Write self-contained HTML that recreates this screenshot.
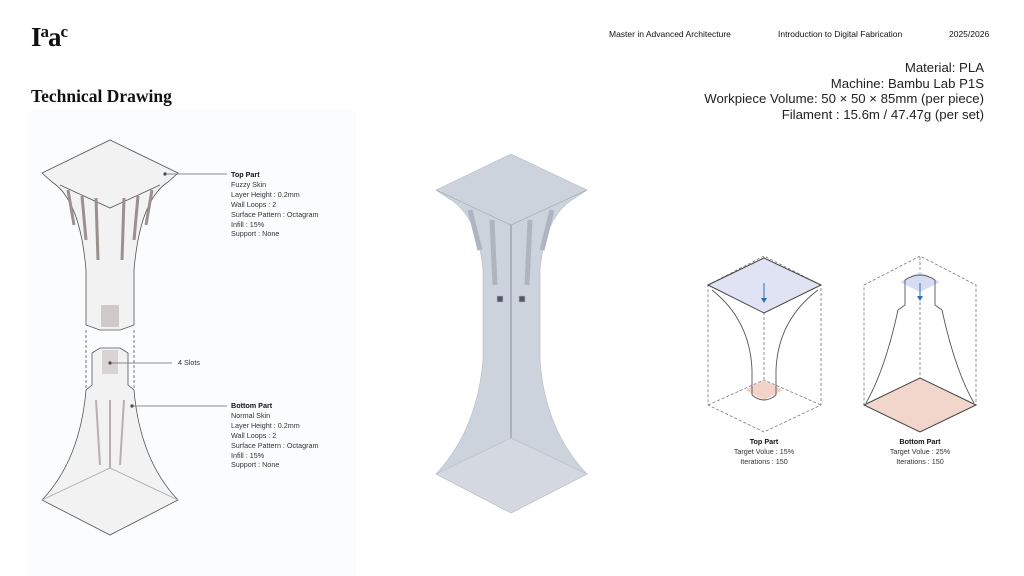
<!DOCTYPE html>
<html><head><meta charset="utf-8"><style>
body{margin:0;width:1024px;height:576px;background:#fff;position:relative;overflow:hidden;font-family:"Liberation Sans",sans-serif;color:#111}
.a{position:absolute;white-space:nowrap}
.lab{font-size:7.2px;line-height:9.9px;color:#333}
.lab b{color:#111}
</style></head><body>
<div class="a" style="left:30px;top:110px;width:326px;height:466px;background:#fbfcfd"></div>
<div class="a" style="left:31px;top:22px;font-family:'Liberation Serif',serif;font-weight:bold;font-size:27px;letter-spacing:-1px">I<span style="font-size:17px;vertical-align:9px">a</span>a<span style="font-size:17px;vertical-align:9px">c</span></div>
<div class="a" style="left:31px;top:86px;font-family:'Liberation Serif',serif;font-weight:bold;font-size:17.5px">Technical Drawing</div>
<div class="a" style="left:609px;top:29px;font-size:8.5px">Master in Advanced Architecture</div>
<div class="a" style="left:778px;top:29px;font-size:8.5px">Introduction to Digital Fabrication</div>
<div class="a" style="left:949px;top:29px;font-size:8.5px">2025/2026</div>
<div class="a" style="right:40px;top:60px;text-align:right;font-size:13.2px;line-height:15.5px;color:#222">Material: PLA<br>Machine: Bambu Lab P1S<br>Workpiece Volume: 50 × 50 × 85mm (per piece)<br>Filament : 15.6m / 47.47g (per set)</div>

<svg class="a" style="left:0;top:0" width="1024" height="576">
<!-- left top part -->
<g stroke="#555" stroke-width="0.8" fill="#f2f2f2">
<path d="M110 140 L178 173 L168 182 Q140 200 134 270 L134 325 L120 330 L100 330 L86 325 L86 270 Q80 200 52 182 L42 173 Z"/>
<path d="M60 185 L110 208 L160 185" fill="none"/>
<path d="M68 190 L74 225 M82 196 L86 240 M96 198 L98 260 M124 198 L122 260 M138 196 L134 240 M152 190 L146 225" stroke="#9a9090" stroke-width="3"/>
<rect x="101" y="305" width="18" height="22" fill="#cfc9c9" stroke="none"/>
<path d="M86 330 L86 395 M134 330 L134 395" stroke-dasharray="3 2" fill="none"/>
<path d="M92 353 L100 348 L120 348 L128 353 L128 385 L134 390 Q140 460 178 500 L110 535 L42 500 Q80 460 86 390 L92 385 Z"/>
<rect x="102" y="350" width="16" height="24" fill="#d8d4d4" stroke="none"/>
<path d="M42 500 L110 468 L178 500" fill="none" stroke="#aaa"/>
<path d="M96 400 L100 465 M110 400 L110 468 M124 400 L120 465" stroke="#b8b0b0" stroke-width="2"/>
</g>
<g stroke="#666" stroke-width="0.8" fill="#333">
<line x1="165" y1="174" x2="227" y2="174"/><circle cx="165" cy="174" r="1.3"/>
<line x1="110" y1="363" x2="172" y2="363"/><circle cx="110" cy="363" r="1.3"/>
<line x1="132" y1="406" x2="227" y2="406"/><circle cx="132" cy="406" r="1.3"/>
</g>
<!-- middle -->
<g fill="#cdd3dd" stroke="#b4bcc8" stroke-width="0.6">
<path d="M511 154 L587 190 L575 198 Q545 215 540 270 L540 360 Q545 430 587 474 L511 513 L436 474 Q477 430 483 360 L483 270 Q478 215 448 198 L436 190 Z"/>
<path d="M436 190 L511 225 L587 190" fill="none" stroke="#9aa3b0"/>
<path d="M436 474 L511 438 L587 474 L511 513 Z" fill="#d3d8e1"/>
<path d="M511 225 L511 438" stroke="#aab2bf" fill="none" stroke-width="2"/>
<path d="M492 220 L495 285 M530 220 L527 285 M470 210 L480 250 M552 210 L542 250" stroke="#aeb5c0" stroke-width="5" fill="none"/>
<rect x="497" y="296" width="6" height="6" fill="#556"/><rect x="519" y="296" width="6" height="6" fill="#556"/>
</g>
<!-- right boxes -->
<g stroke="#666" stroke-width="0.7" fill="none" stroke-dasharray="3 2">
<path d="M708 285 L764 256 L821 285 L821 405 L764 432 L708 405 Z M708 405 L764 380 L821 405 M764 380 L764 256"/>
<path d="M864 285 L920 256 L976 285 L976 405 L920 432 L864 405 Z M864 405 L920 380 L976 405 M920 380 L920 256"/>
</g>
<path d="M745 390 L764 380 L783 390 L764 400 Z" fill="#f3d2c8"/>
<path d="M708 285 L764 258 L821 285 L764 313 Z" fill="#dfe3f3" stroke="#444" stroke-width="1"/>
<path d="M712 290 Q750 320 752 370 L752 395 M818 290 Q778 320 776 370 L776 395 M752 395 Q764 405 776 395" fill="none" stroke="#555" stroke-width="0.9"/>
<line x1="764" y1="283" x2="764" y2="300" stroke="#2f6fb0"/><path d="M761 298 L764 303 L767 298 Z" fill="#2f6fb0"/>
<path d="M864 405 L920 378 L976 405 L920 432 Z" fill="#f2d6cc" stroke="#444" stroke-width="1"/>
<path d="M900 282 L920 272 L940 282 L920 292 Z" fill="#d6dcf2"/>
<path d="M905 280 L905 305 L898 310 Q885 370 866 403 M935 280 L935 305 L942 310 Q955 370 974 403 M905 280 Q920 270 935 280" fill="none" stroke="#555" stroke-width="0.9"/>
<line x1="920" y1="283" x2="920" y2="298" stroke="#2f6fb0"/><path d="M917 296 L920 301 L923 296 Z" fill="#2f6fb0"/>
</svg>

<div class="a lab" style="left:231px;top:170px"><b>Top Part</b><br>Fuzzy Skin<br>Layer Height : 0.2mm<br>Wall Loops : 2<br>Surface Pattern : Octagram<br>Infill : 15%<br>Support : None</div>
<div class="a lab" style="left:178px;top:358px">4 Slots</div>
<div class="a lab" style="left:231px;top:401px"><b>Bottom Part</b><br>Normal Skin<br>Layer Height : 0.2mm<br>Wall Loops : 2<br>Surface Pattern : Octagram<br>Infill : 15%<br>Support : None</div>
<div class="a lab" style="left:714px;top:437px;width:100px;text-align:center"><b>Top Part</b><br>Target Volue : 15%<br>Iterations : 150</div>
<div class="a lab" style="left:870px;top:437px;width:100px;text-align:center"><b>Bottom Part</b><br>Target Volue : 25%<br>Iterations : 150</div>
</body></html>
